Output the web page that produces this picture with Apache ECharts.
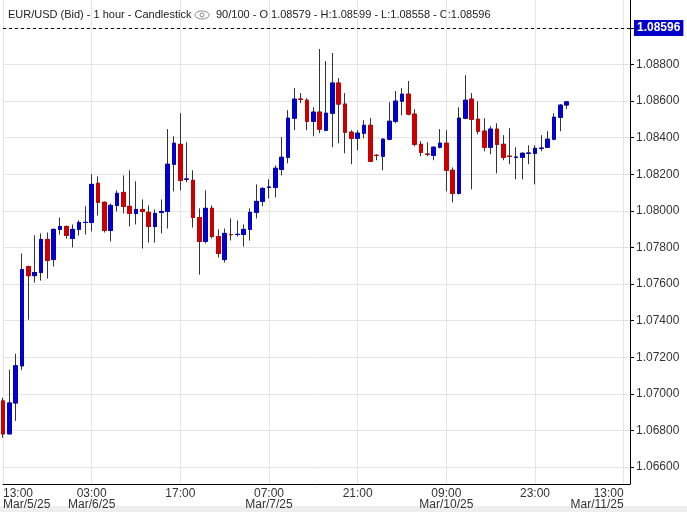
<!DOCTYPE html>
<html>
<head>
<meta charset="utf-8">
<script src="https://cdn.jsdelivr.net/npm/echarts@6/dist/echarts.min.js"></script>
<style>
  html, body { margin: 0; padding: 0; background: #fff; }
  #chart { width: 687px; height: 512px; }
</style>
</head>
<body>
<div id="chart"></div>
<script>
var opens = [1.06961,1.06781,1.06950,1.07153,1.07696,1.07646,1.07663,1.07844,1.07734,1.07899,
  1.07915,1.07849,1.07899,1.07937,1.07937,1.08151,1.08047,1.07893,1.08030,1.08101,
  1.08025,1.07986,1.08008,1.07992,1.07915,1.07992,1.07997,1.08255,1.08364,1.08173,
  1.08167,1.07964,1.07833,1.08014,1.07860,1.07734,1.07871,1.07871,1.07871,1.07899,
  1.07992,1.08052,1.08129,1.08129,1.08227,1.08293,1.08507,1.08611,1.08605,1.08490,
  1.08540,1.08441,1.08534,1.08699,1.08584,1.08430,1.08397,1.08425,1.08468,1.08304,
  1.08299,1.08392,1.08490,1.08600,1.08638,1.08529,1.08364,1.08310,1.08304,1.08348,
  1.08370,1.08222,1.08096,1.08507,1.08611,1.08501,1.08436,1.08348,1.08447,1.08364,
  1.08299,1.08293,1.08293,1.08315,1.08315,1.08342,1.08348,1.08392,1.08512,1.08579];
var closes = [1.06781,1.06950,1.07153,1.07679,1.07646,1.07663,1.07844,1.07729,1.07899,1.07915,
  1.07866,1.07899,1.07937,1.07937,1.08145,1.08047,1.07893,1.08030,1.08096,1.08025,
  1.07986,1.08008,1.07997,1.07915,1.07986,1.07997,1.08255,1.08370,1.08167,1.08174,
  1.07964,1.07833,1.08014,1.07860,1.07767,1.07877,1.07870,1.07872,1.07899,1.07992,
  1.08052,1.08123,1.08130,1.08233,1.08293,1.08507,1.08611,1.08610,1.08490,1.08540,
  1.08447,1.08534,1.08699,1.08584,1.08430,1.08397,1.08425,1.08468,1.08271,1.08303,
  1.08392,1.08490,1.08600,1.08638,1.08529,1.08364,1.08320,1.08309,1.08348,1.08370,
  1.08222,1.08096,1.08507,1.08605,1.08501,1.08436,1.08348,1.08447,1.08364,1.08293,
  1.08298,1.08294,1.08315,1.08316,1.08342,1.08343,1.08392,1.08512,1.08578,1.08596];
var lows = [1.06759,1.06781,1.06852,1.07131,1.07405,1.07608,1.07619,1.07630,1.07696,1.07871,
  1.07849,1.07800,1.07866,1.07871,1.07888,1.07975,1.07882,1.07833,1.07997,1.07986,
  1.07915,1.07926,1.07794,1.07827,1.07827,1.07877,1.07904,1.08107,1.08112,1.08156,
  1.07909,1.07652,1.07822,1.07849,1.07745,1.07718,1.07838,1.07860,1.07805,1.07838,
  1.07959,1.08025,1.08068,1.08074,1.08194,1.08260,1.08441,1.08589,1.08441,1.08408,
  1.08425,1.08436,1.08348,1.08370,1.08315,1.08255,1.08331,1.08397,1.08271,1.08277,
  1.08222,1.08386,1.08479,1.08523,1.08523,1.08353,1.08299,1.08299,1.08277,1.08342,
  1.08107,1.08047,1.08090,1.08501,1.08118,1.08419,1.08326,1.08310,1.08205,1.08277,
  1.08255,1.08173,1.08173,1.08255,1.08145,1.08326,1.08348,1.08386,1.08436,1.08558];
var highs = [1.06978,1.07131,1.07219,1.07767,1.07701,1.07866,1.07877,1.07882,1.07904,1.07964,
  1.07920,1.07926,1.07948,1.08025,1.08200,1.08189,1.08052,1.08041,1.08112,1.08194,
  1.08222,1.08162,1.08063,1.08030,1.08008,1.08063,1.08447,1.08408,1.08534,1.08375,
  1.08222,1.08014,1.08112,1.08030,1.07899,1.07904,1.07959,1.07948,1.07926,1.08014,
  1.08145,1.08129,1.08173,1.08249,1.08403,1.08551,1.08671,1.08644,1.08616,1.08567,
  1.08885,1.08819,1.08863,1.08726,1.08644,1.08441,1.08441,1.08496,1.08507,1.08310,
  1.08397,1.08594,1.08655,1.08671,1.08710,1.08556,1.08381,1.08375,1.08353,1.08447,
  1.08441,1.08238,1.08567,1.08742,1.08644,1.08600,1.08507,1.08463,1.08479,1.08414,
  1.08452,1.08348,1.08320,1.08359,1.08359,1.08414,1.08436,1.08534,1.08584,1.08599];

// x tick labels every 14 hours, 100 hourly slots
var tickLabels = {
  0: '13:00\nMar/5/25', 14: '03:00\nMar/6/25', 28: '17:00', 42: '07:00\nMar/7/25',
  56: '21:00', 70: '09:00\nMar/10/25', 84: '23:00', 98: '13:00\nMar/11/25'
};
var priceTicks = [1.066, 1.068, 1.070, 1.072, 1.074, 1.076, 1.078, 1.080, 1.082, 1.084, 1.086, 1.088, 1.090];
var lastPrice = 1.08596;

var categories = [];
for (var i = 0; i < 100; i++) categories.push(String(i));

var fullData = opens.map(function (o, i) { return [o, closes[i], lows[i], highs[i]]; });
var bodyData = opens.map(function (o, i) {
  return [o, closes[i], Math.min(o, closes[i]), Math.max(o, closes[i])];
});

var BLUE = '#0000c8', RED = '#c80000';
var font = "'Liberation Sans Narrow', 'Liberation Sans', Arial, sans-serif";

var chart = echarts.init(document.getElementById('chart'));
chart.setOption({
  animation: false,
  backgroundColor: '#fff',
  grid: { left: 0, right: 57, top: 0, bottom: 28 },
  xAxis: {
    type: 'category',
    data: categories,
    boundaryGap: false,
    axisLine: { lineStyle: { color: '#000', width: 1 } },
    axisTick: { show: false },
    axisLabel: {
      interval: function (idx) { return tickLabels[idx] !== undefined; },
      formatter: function (v, idx) { return tickLabels[idx] || ''; },
      color: '#333', fontFamily: font, fontSize: 12, lineHeight: 11, margin: 4,
      alignMinLabel: 'left', alignMaxLabel: 'right'
    },
    splitLine: {
      show: true,
      interval: function (idx) { return tickLabels[idx] !== undefined; },
      lineStyle: { color: '#e4e4e4' }
    }
  },
  yAxis: {
    type: 'value',
    position: 'right',
    min: 1.06507,
    max: 1.09153,
    scale: true,
    axisLine: { show: true, lineStyle: { color: '#000' } },
    axisTick: { show: true, length: 4, lineStyle: { color: '#000' }, customValues: priceTicks },
    axisLabel: {
      customValues: priceTicks,
      formatter: function (v) { return v.toFixed(5); },
      color: '#333', fontFamily: font, fontSize: 12, margin: 6
    },
    splitLine: { show: true, lineStyle: { color: '#e4e4e4' } }
  },
  series: [
    {
      type: 'candlestick',
      data: fullData,
      barWidth: 4,
      itemStyle: { color: '#333', color0: '#333', borderColor: '#333', borderColor0: '#333', borderWidth: 1 }
    },
    {
      type: 'candlestick',
      data: bodyData,
      barWidth: 4,
      itemStyle: { color: BLUE, color0: RED, borderColor: BLUE, borderColor0: RED, borderWidth: 1 }
    },
    {
      type: 'line',
      data: closes.map(function () { return null; }),
      symbol: 'none',
      markLine: {
        silent: true,
        symbol: 'none',
        data: [{ yAxis: lastPrice }],
        lineStyle: { color: '#000', type: [3, 3], width: 1 },
        label: {
          position: 'end',
          formatter: lastPrice.toFixed(5),
          color: '#fff', fontWeight: 'bold', fontFamily: font, fontSize: 12,
          backgroundColor: BLUE, padding: [2, 3], distance: 4
        }
      }
    }
  ],
  graphic: [
    { type: 'rect', left: 0, top: 506, shape: { width: 687, height: 6 }, style: { fill: '#eeeeee' } },
    { type: 'text', left: 8, top: 9, style: { text: 'EUR/USD (Bid) - 1 hour - Candlestick', fill: '#222', font: "11px 'Liberation Sans', Arial" } },
    { type: 'ellipse', shape: { cx: 202, cy: 15, rx: 7, ry: 4 }, style: { fill: 'none', stroke: '#888', lineWidth: 1 } },
    { type: 'circle', shape: { cx: 202, cy: 15, r: 2 }, style: { fill: 'none', stroke: '#888', lineWidth: 1 } },
    { type: 'text', left: 216, top: 9, style: { text: '90/100 - O:1.08579 - H:1.08599 - L:1.08558 - C:1.08596', fill: '#222', font: "11px 'Liberation Sans', Arial" } }
  ]
});
</script>
</body>
</html>
